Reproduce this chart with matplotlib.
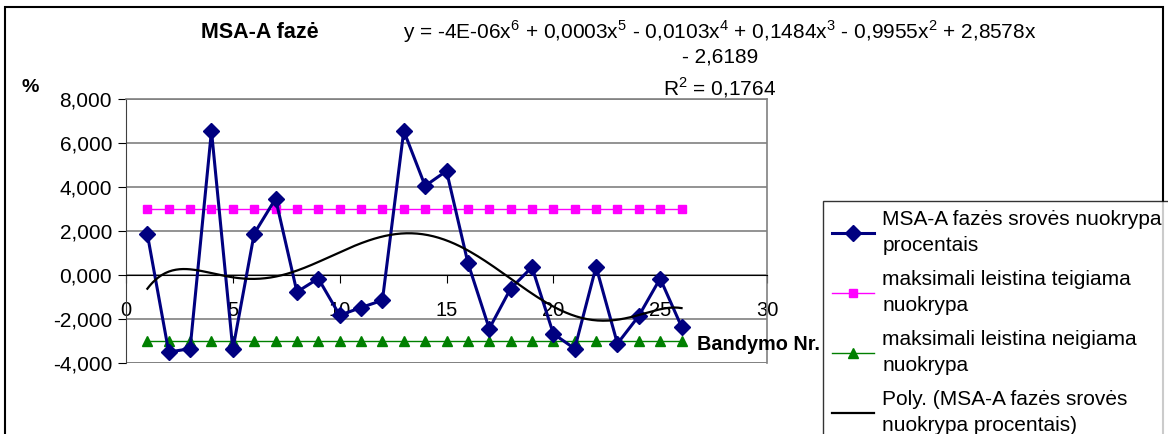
import numpy as np
import matplotlib.pyplot as plt
from matplotlib.patches import Rectangle
from matplotlib.ticker import FuncFormatter

plt.rcParams['font.family'] = ['Liberation Sans', 'DejaVu Sans']
plt.rcParams['mathtext.fontset'] = 'custom'
plt.rcParams['mathtext.rm'] = 'Liberation Sans'

# measurement number and deviation in percent
bandymas = list(range(1, 27))
nuokrypa = [1.85, -3.50, -3.35, 6.55, -3.38, 1.88, 3.47, -0.77, -0.16, -1.83,
            -1.48, -1.15, 6.55, 4.05, 4.73, 0.56, -2.44, -0.62, 0.36, -2.67,
            -3.35, 0.38, -3.12, -1.86, -0.16, -2.35]
riba_teigiama = [3.0] * 26
riba_neigiama = [-3.0] * 26

pavadinimas = 'MSA-A fazė'
lygtis = [r'y = -4E-06x$^{6}$ + 0,0003x$^{5}$ - 0,0103x$^{4}$ + 0,1484x$^{3}$ - 0,9955x$^{2}$ + 2,8578x',
          '- 2,6189',
          r'R$^{2}$ = 0,1764']
etiketes = ['MSA-A fazės srovės nuokrypa\nprocentais',
            'maksimali leistina teigiama\nnuokrypa',
            'maksimali leistina neigiama\nnuokrypa',
            'Poly. (MSA-A fazės srovės\nnuokrypa procentais)']

W, H = 1168, 434
fig = plt.figure(figsize=(W / 100, H / 100), dpi=100)
ax = fig.add_axes([126 / W, 1 - 363 / H, 641 / W, 264 / H])

# 6th order polynomial trend through the measurements
koef = np.polyfit(bandymas, nuokrypa, 6)
xs = np.linspace(1, 26, 300)

l1, = ax.plot(bandymas, nuokrypa, color='#000080', lw=2.2, marker='D', ms=8.5, zorder=5)
l2, = ax.plot(bandymas, riba_teigiama, color='#FF00FF', lw=1.0, marker='s', ms=5.5, zorder=4)
l3, = ax.plot(bandymas, riba_neigiama, color='#008000', lw=1.0, marker='^', ms=6.5, zorder=4)
l4, = ax.plot(xs, np.polyval(koef, xs), color='black', lw=1.6, zorder=6)

ax.set_xlim(0, 30)
ax.set_ylim(-4, 8)
ax.set_xticks(range(0, 31, 5))
ax.set_yticks(range(-4, 9, 2))
ax.yaxis.set_major_formatter(FuncFormatter(lambda v, p: f'{v:.3f}'.replace('.', ',')))
ax.grid(axis='y', color='#808080', lw=1.2)
ax.set_axisbelow(True)

ax.spines['bottom'].set_position(('data', 0))
ax.spines['bottom'].set_color('black')
ax.spines['left'].set_color('#404040')
for s in ('top', 'right'):
    ax.spines[s].set_color('#808080')
    ax.spines[s].set_linewidth(1.2)
ax.axhline(-4, color='#808080', lw=1.2, zorder=1)

ax.tick_params(axis='x', direction='out', length=6, pad=13, labelsize=14.5)
ax.tick_params(axis='y', direction='out', length=6, pad=4, labelsize=15)

fig.text(260 / W, 1 - 32 / H, pavadinimas, fontsize=15.5, fontweight='bold', ha='center', va='center')
fig.text(720 / W, 1 - 32 / H, lygtis[0], fontsize=15, ha='center', va='center')
fig.text(720 / W, 1 - 57 / H, lygtis[1], fontsize=15, ha='center', va='center')
fig.text(720 / W, 1 - 88 / H, lygtis[2], fontsize=15, ha='center', va='center')
fig.text(30 / W, 1 - 88 / H, '%', fontsize=14, fontweight='bold', ha='center', va='center')
fig.text(697 / W, 1 - 345 / H, 'Bandymo Nr.', fontsize=14.3, fontweight='bold', ha='left', va='center')

# chart area border
fig.add_artist(Rectangle((5 / W, -0.1), 1158 / W, 1.1 - 7 / H, transform=fig.transFigure,
                         fill=False, ec='black', lw=1.5))

leg = fig.legend([l1, l2, l3, l4], etiketes, loc='upper left',
                 bbox_to_anchor=(823 / W, 1 - 201 / H), borderaxespad=0,
                 fontsize=15, frameon=True, fancybox=False, handlelength=2.0,
                 handletextpad=0.4, labelspacing=0.72, borderpad=0.45)
for t in leg.get_texts():
    t.set_linespacing(1.46)
leg.get_frame().set_edgecolor('black')
leg.get_frame().set_linewidth(1.0)

fig.savefig('out.png', dpi=100)
